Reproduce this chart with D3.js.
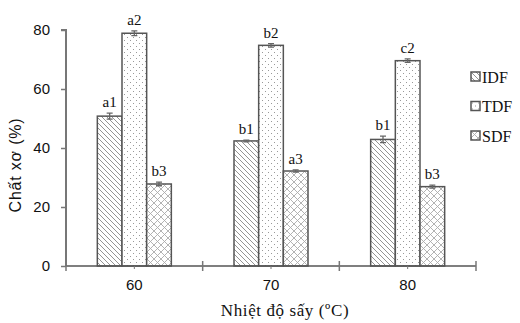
<!DOCTYPE html>
<html><head><meta charset="utf-8">
<script src="https://cdn.jsdelivr.net/npm/d3@7"></script>
<style>body{margin:0;background:#fff}svg{display:block}</style>
</head><body>
<script>
const categories = ["60", "70", "80"];
const seriesNames = ["IDF", "TDF", "SDF"];
const IDF = [50.8, 42.4, 42.9];
const TDF = [78.9, 74.8, 69.6];
const SDF = [27.8, 32.2, 26.9];
const IDFerr = [1.0, 0.3, 1.1];
const TDFerr = [0.8, 0.6, 0.6];
const SDFerr = [0.6, 0.4, 0.5];
const IDFlab = ["a1", "b1", "b1"];
const TDFlab = ["a2", "b2", "c2"];
const SDFlab = ["b3", "a3", "b3"];
const yTicks = [0, 20, 40, 60, 80];

const W = 520, H = 323;
const SERIF = "'Liberation Serif', 'Times New Roman', serif";
const SANS = "'Liberation Sans', Arial, sans-serif";
const svg = d3.select("body").append("svg").attr("width", W).attr("height", H);
const defs = svg.append("defs");

// patterns
const p1 = defs.append("pattern").attr("id","hatch").attr("patternUnits","userSpaceOnUse")
  .attr("width",5).attr("height",5);
p1.append("rect").attr("width",5).attr("height",5).attr("fill","#fff");
p1.append("path").attr("d","M-1,-1L6,6M-1,4L1,6M4,-1L6,1").attr("stroke","#888").attr("stroke-width",0.9);
const p2 = defs.append("pattern").attr("id","dots").attr("patternUnits","userSpaceOnUse")
  .attr("width",6).attr("height",6);
p2.append("rect").attr("width",6).attr("height",6).attr("fill","#fff");
p2.append("rect").attr("x",1).attr("y",1).attr("width",1).attr("height",1).attr("fill","#999");
p2.append("rect").attr("x",4).attr("y",4).attr("width",1).attr("height",1).attr("fill","#999");
const p3 = defs.append("pattern").attr("id","cross").attr("patternUnits","userSpaceOnUse")
  .attr("width",7).attr("height",7);
p3.append("rect").attr("width",7).attr("height",7).attr("fill","#fff");
p3.append("path").attr("d","M0,0L7,7M7,0L0,7").attr("stroke","#aaa").attr("stroke-width",0.9);
const fills = ["url(#hatch)","url(#dots)","url(#cross)"];

const x0 = 66, x1 = 476, yTop = 30, yBot = 266;
const x = d3.scaleBand().domain(categories).range([x0, x1]);
const xs = d3.scaleBand().domain(seriesNames).range([0, 74]);
const y = d3.scaleLinear().domain([0, 80]).range([yBot, yTop]);

const vals = [IDF, TDF, SDF], errs = [IDFerr, TDFerr, SDFerr], labs = [IDFlab, TDFlab, SDFlab];
const data = [];
categories.forEach((c, i) => seriesNames.forEach((s, j) => data.push({c, s, j, v: vals[j][i], e: errs[j][i], l: labs[j][i]})));

const off = (x.bandwidth() - 74) / 2;
const g = svg.append("g");
g.selectAll("rect.bar").data(data).join("rect").attr("class","bar")
  .attr("x", d => x(d.c) + off + xs(d.s))
  .attr("width", xs.bandwidth())
  .attr("y", d => y(d.v))
  .attr("height", d => y(0) - y(d.v))
  .attr("fill", d => fills[d.j])
  .attr("stroke", "#555").attr("stroke-width", 1.5);

// error bars
const cx = d => x(d.c) + off + xs(d.s) + xs.bandwidth() / 2;
g.selectAll("path.err").data(data).join("path").attr("class","err")
  .attr("d", d => `M${cx(d)-3},${y(d.v+d.e)}H${cx(d)+3}M${cx(d)},${y(d.v+d.e)}V${y(d.v-d.e)}M${cx(d)-3},${y(d.v-d.e)}H${cx(d)+3}`)
  .attr("stroke", "#666").attr("stroke-width", 1.3).attr("fill","none");

g.selectAll("text.lab").data(data).join("text").attr("class","lab")
  .attr("x", cx).attr("y", d => y(d.v + d.e) - 6)
  .attr("text-anchor","middle")
  .style("font-family", SERIF).attr("font-size",15).attr("fill","#111")
  .text(d => d.l);

// axes
const ya = svg.append("g").attr("transform", `translate(${x0},0)`)
  .call(d3.axisLeft(y).tickValues(yTicks).tickSize(5).tickPadding(11));
ya.select(".domain").attr("stroke","#777").attr("stroke-width",2).attr("d", `M-5,${yTop}H0V${yBot}`);
ya.selectAll(".tick line").attr("stroke","#777").attr("stroke-width",1.5);
ya.selectAll(".tick text").style("font-family", SANS).attr("font-size",15).attr("fill","#111");

const xa = svg.append("g").attr("transform", `translate(0,${yBot})`)
  .call(d3.axisBottom(x).tickSize(0).tickPadding(13));
xa.select(".domain").attr("stroke","#555").attr("stroke-width",1.5).attr("d", `M${x0},0H${x1}`);
xa.selectAll(".tick text").style("font-family", SANS).attr("font-size",15).attr("fill","#111");
xa.selectAll(".tick").append("line").attr("y1",0).attr("y2",3).attr("stroke","#777");
const bounds = [x0, ...categories.slice(1).map(c => x(c)), x1];
xa.selectAll("line.sep").data(bounds).join("line").attr("class","sep")
  .attr("x1", d => d).attr("x2", d => d).attr("y1", -5).attr("y2", 5)
  .attr("stroke", "#777").attr("stroke-width", 1.5);

svg.append("text").attr("x", 285).attr("y", 316).attr("text-anchor","middle")
  .style("font-family", SERIF).attr("font-size",17).attr("letter-spacing",0.6).attr("fill","#111")
  .text("Nhiệt độ sấy (ºC)");
svg.append("text").attr("transform", `translate(21,165) rotate(-90)`).attr("text-anchor","middle")
  .style("font-family", SANS).attr("font-size",16).attr("letter-spacing",0.8).attr("fill","#111")
  .text("Chất xơ (%)");

// legend
const lg = svg.append("g").attr("transform","translate(471,72)");
const items = lg.selectAll("g").data(seriesNames).join("g").attr("transform", (d,i) => `translate(0,${i*29.5})`);
items.append("rect").attr("width",9).attr("height",9).attr("fill",(d,i)=>fills[i]).attr("stroke","#555").attr("stroke-width",1.5);
items.append("text").attr("x",11).attr("y",10.5).style("font-family", SERIF).attr("font-size",16).attr("fill","#111").text(d=>d);
</script>
</body></html>
